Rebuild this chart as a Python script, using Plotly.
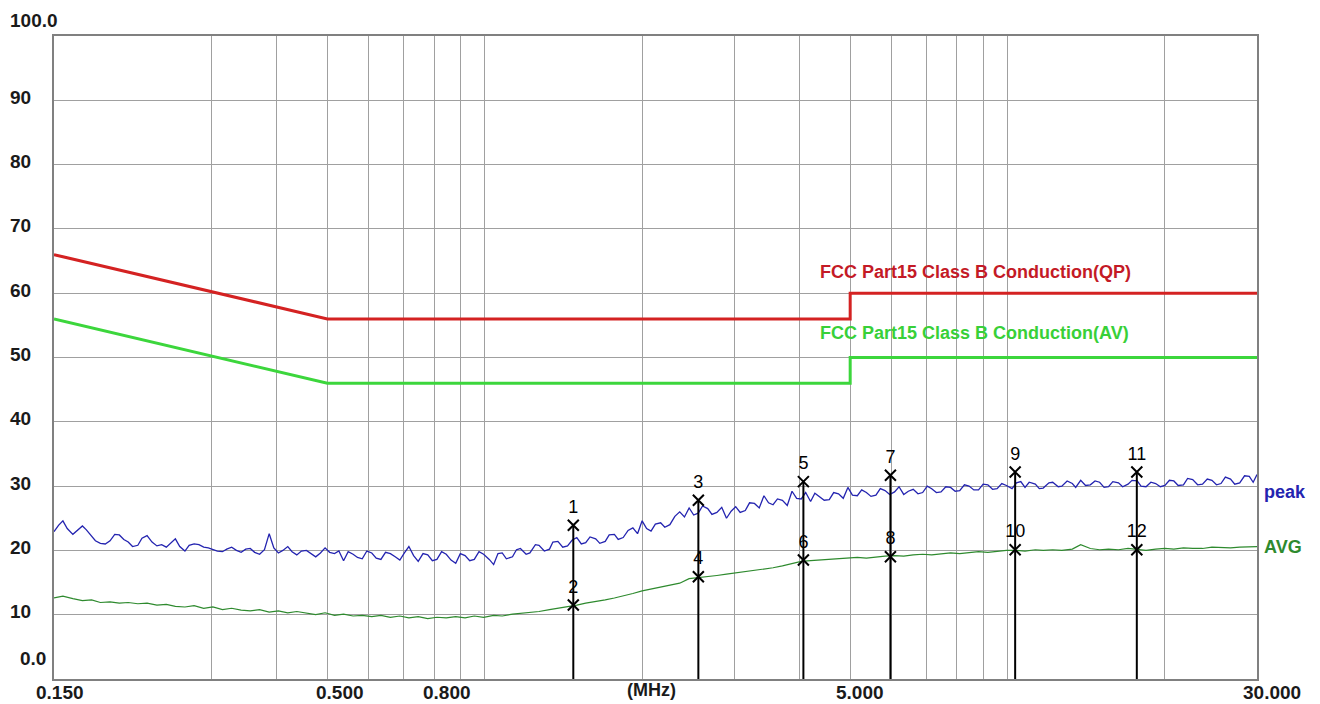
import numpy as np
import plotly.graph_objects as go

# ---------------- data ----------------
# peak detector scan (MHz / dBuV)
peak_freq_mhz = [
    0.150, 0.153, 0.156, 0.159, 0.163, 0.166, 0.170, 0.173, 0.177, 0.180,
    0.184, 0.188, 0.192, 0.196, 0.200, 0.204, 0.208, 0.212, 0.217, 0.221,
    0.226, 0.231, 0.236, 0.241, 0.246, 0.251, 0.256, 0.261, 0.267, 0.272,
    0.278, 0.284, 0.290, 0.296, 0.302, 0.308, 0.315, 0.321, 0.328, 0.335,
    0.342, 0.349, 0.356, 0.363, 0.371, 0.379, 0.387, 0.395, 0.403, 0.411,
    0.420, 0.428, 0.437, 0.446, 0.456, 0.465, 0.475, 0.485, 0.495, 0.505,
    0.516, 0.526, 0.537, 0.548, 0.560, 0.571, 0.583, 0.595, 0.608, 0.620,
    0.633, 0.646, 0.660, 0.674, 0.688, 0.702, 0.716, 0.731, 0.746, 0.762,
    0.778, 0.794, 0.810, 0.827, 0.844, 0.862, 0.880, 0.898, 0.917, 0.936,
    0.955, 0.975, 0.995, 1.02, 1.04, 1.06, 1.08, 1.10, 1.13, 1.15,
    1.17, 1.20, 1.22, 1.25, 1.27, 1.30, 1.33, 1.35, 1.38, 1.41,
    1.44, 1.47, 1.50, 1.53, 1.56, 1.59, 1.63, 1.66, 1.70, 1.73,
    1.77, 1.80, 1.84, 1.88, 1.92, 1.96, 2.00, 2.04, 2.08, 2.12,
    2.17, 2.21, 2.26, 2.31, 2.36, 2.41, 2.46, 2.51, 2.56, 2.61,
    2.67, 2.72, 2.78, 2.84, 2.90, 2.96, 3.02, 3.08, 3.15, 3.21,
    3.28, 3.35, 3.42, 3.49, 3.56, 3.63, 3.71, 3.79, 3.87, 3.95,
    4.03, 4.11, 4.20, 4.28, 4.37, 4.46, 4.56, 4.65, 4.75, 4.85,
    4.95, 5.05, 5.16, 5.26, 5.37, 5.48, 5.60, 5.71, 5.83, 5.95,
    6.08, 6.20, 6.33, 6.46, 6.60, 6.74, 6.88, 7.02, 7.16, 7.31,
    7.46, 7.62, 7.78, 7.94, 8.10, 8.27, 8.44, 8.62, 8.80, 8.98,
    9.17, 9.36, 9.55, 9.75, 9.95, 10.2, 10.4, 10.6, 10.8, 11.0,
    11.3, 11.5, 11.7, 12.0, 12.2, 12.5, 12.7, 13.0, 13.3, 13.5,
    13.8, 14.1, 14.4, 14.7, 15.0, 15.3, 15.6, 15.9, 16.3, 16.6,
    17.0, 17.3, 17.7, 18.0, 18.4, 18.8, 19.2, 19.6, 20.0, 20.4,
    20.8, 21.2, 21.7, 22.1, 22.6, 23.1, 23.6, 24.1, 24.6, 25.1,
    25.6, 26.1, 26.7, 27.2, 27.8, 28.4, 29.0, 29.5, 30.0,
]

peak_dbuv = [
    22.9, 23.9, 24.6, 23.4, 22.5, 23.0, 23.8, 23.2, 22.2, 21.5,
    21.1, 21.0, 21.5, 22.5, 22.4, 21.7, 21.3, 20.6, 20.8, 21.9,
    22.3, 21.3, 20.7, 20.9, 20.5, 21.1, 21.8, 20.6, 19.9, 20.8,
    21.0, 20.9, 20.5, 20.4, 20.1, 19.9, 19.8, 20.2, 20.5, 20.0,
    19.7, 20.2, 20.3, 19.7, 19.4, 20.1, 22.6, 20.4, 19.6, 20.0,
    20.6, 19.8, 19.3, 19.9, 20.0, 19.5, 19.0, 19.6, 20.4, 19.7,
    19.5, 19.9, 18.4, 19.8, 19.4, 18.9, 18.7, 19.9, 19.6, 18.8,
    18.6, 19.7, 19.5, 19.0, 18.5, 19.6, 20.6, 19.2, 18.3, 19.5,
    19.3, 18.4, 18.6, 19.8, 19.4, 18.5, 18.0, 19.5, 19.2, 18.4,
    18.6, 19.8, 19.4, 18.6, 17.8, 19.5, 19.6, 18.7, 19.0, 20.1,
    20.3, 19.4, 19.6, 20.9, 20.8, 19.9, 20.2, 21.3, 21.4, 20.5,
    20.7, 21.6, 22.0, 21.0, 21.2, 22.1, 21.8, 21.1, 21.4, 22.4,
    22.5, 21.7, 22.0, 23.1, 23.5, 22.6, 24.6, 23.4, 23.0, 24.1,
    24.3, 23.6, 24.0, 25.3, 26.0, 25.2, 26.6, 25.5, 25.8, 26.9,
    26.5, 25.6, 25.9, 26.7, 25.0, 26.1, 26.8, 25.9, 26.2, 27.4,
    27.3, 26.6, 28.5, 27.4, 27.1, 28.0, 27.8, 27.0, 29.2, 28.1,
    28.0, 29.0, 27.6, 28.9, 28.4, 27.8, 27.9, 29.0, 28.8, 28.1,
    29.8, 28.6, 28.5, 29.4, 29.0, 28.4, 28.6, 29.6, 29.3, 28.7,
    29.1, 29.9, 28.7, 29.2, 29.5, 28.8, 29.0, 30.0, 29.6, 29.0,
    29.1, 29.9, 29.8, 29.2, 29.3, 30.2, 30.0, 29.4, 29.4, 30.3,
    30.2, 29.5, 29.6, 30.4, 30.1, 29.6, 30.5, 30.7, 29.8, 30.6,
    30.3, 29.6, 29.7, 30.5, 30.6, 29.9, 30.0, 30.8, 30.4, 29.8,
    30.9, 30.1, 30.2, 30.8, 30.6, 29.8, 29.9, 30.7, 30.5, 29.9,
    30.3, 30.9, 30.8, 30.0, 29.9, 30.6, 30.4, 29.9, 30.1, 30.9,
    30.8, 30.1, 30.2, 31.2, 31.0, 30.2, 30.3, 31.1, 30.9, 30.2,
    30.4, 31.4, 31.1, 30.3, 30.5, 31.6, 31.5, 30.6, 31.8,
]

# average detector scan (MHz / dBuV)
avg_freq_mhz = [
    0.150, 0.156, 0.163, 0.170, 0.177, 0.184, 0.192, 0.200, 0.208, 0.217,
    0.226, 0.236, 0.246, 0.256, 0.267, 0.278, 0.290, 0.302, 0.315, 0.328,
    0.342, 0.356, 0.371, 0.387, 0.403, 0.420, 0.437, 0.456, 0.475, 0.495,
    0.516, 0.537, 0.560, 0.583, 0.608, 0.633, 0.660, 0.688, 0.716, 0.746,
    0.778, 0.810, 0.844, 0.880, 0.917, 0.955, 0.995, 1.04, 1.08, 1.13,
    1.17, 1.22, 1.27, 1.33, 1.38, 1.44, 1.50, 1.56, 1.63, 1.70,
    1.77, 1.84, 1.92, 2.00, 2.08, 2.17, 2.26, 2.36, 2.46, 2.56,
    2.67, 2.78, 2.90, 3.02, 3.15, 3.28, 3.42, 3.56, 3.71, 3.87,
    4.03, 4.20, 4.37, 4.56, 4.75, 4.95, 5.16, 5.37, 5.60, 5.83,
    6.08, 6.33, 6.60, 6.88, 7.16, 7.46, 7.78, 8.10, 8.44, 8.80,
    9.17, 9.55, 9.95, 10.4, 10.8, 11.3, 11.7, 12.2, 12.7, 13.3,
    13.8, 14.4, 15.0, 15.6, 16.3, 17.0, 17.7, 18.4, 19.2, 20.0,
    20.8, 21.7, 22.6, 23.6, 24.6, 25.6, 26.7, 27.8, 29.0, 30.0,
]

avg_dbuv = [
    12.6, 12.9, 12.5, 12.2, 12.3, 11.9, 12.0, 11.8, 11.9, 11.7,
    11.8, 11.5, 11.6, 11.3, 11.2, 11.4, 11.0, 11.2, 10.8, 11.0,
    10.7, 10.6, 10.8, 10.4, 10.6, 10.3, 10.5, 10.2, 10.0, 10.3,
    9.9, 10.1, 9.8, 9.9, 9.7, 9.9, 9.6, 9.8, 9.5, 9.7,
    9.4, 9.6, 9.5, 9.7, 9.5, 9.8, 9.6, 9.9, 9.8, 10.1,
    10.2, 10.4, 10.5, 10.8, 11.0, 11.2, 11.5, 11.8, 12.0, 12.3,
    12.6, 12.9, 13.3, 13.7, 14.0, 14.3, 14.6, 14.9, 15.6, 15.8,
    16.0, 16.1, 16.3, 16.5, 16.6, 16.9, 17.1, 17.3, 17.6, 17.9,
    18.3, 18.4, 18.5, 18.6, 18.7, 18.8, 18.9, 18.8, 19.0, 19.1,
    19.2, 19.1, 19.3, 19.4, 19.3, 19.5, 19.6, 19.5, 19.7, 19.8,
    19.7, 19.9, 20.0, 20.0, 19.9, 20.1, 20.0, 20.1, 20.0, 20.2,
    20.9, 20.3, 20.1, 20.2, 20.1, 20.3, 20.1, 20.0, 20.2, 20.3,
    20.2, 20.4, 20.3, 20.3, 20.5, 20.4, 20.4, 20.5, 20.5, 20.6,
]

limit_freq = [0.15, 0.5, 5.0, 5.0, 30.0]
qp_limit = [66, 56, 56, 60, 60]
av_limit = [56, 46, 46, 50, 50]

marker_freq = [1.477, 1.477, 2.562, 2.562, 4.069, 4.069,
               5.97, 5.97, 10.34, 10.34, 17.67, 17.67]
marker_level = [23.9, 11.5, 27.8, 15.9, 30.7, 18.5,
                31.7, 19.0, 32.2, 20.1, 32.2, 20.1]
marker_label = ["1", "2", "3", "4", "5", "6", "7", "8", "9", "10", "11", "12"]

x_grid = [0.3, 0.4, 0.5, 0.6, 0.7, 0.8, 0.9, 1, 2, 3, 4, 5, 6, 7, 8, 9, 10, 20]
y_grid = [10, 20, 30, 40, 50, 60, 70, 80, 90]
y_label_vals = [100, 90, 80, 70, 60, 50, 40, 30, 20, 10, 0]
y_label_text = ["100.0", "90", "80", "70", "60", "50", "40", "30", "20", "10", "0.0"]
x_label_vals = [0.15, 0.5, 0.8, 5.0, 30.0]
x_label_text = ["0.150", "0.500", "0.800", "5.000", "30.000"]

# ---------------- figure ----------------
FONT = "Liberation Sans, Arial, sans-serif"
fig = go.Figure()

fig.add_trace(go.Scatter(x=limit_freq, y=qp_limit, mode="lines",
                         line=dict(color="#d42222", width=3), hoverinfo="skip"))
fig.add_trace(go.Scatter(x=limit_freq, y=av_limit, mode="lines",
                         line=dict(color="#3cd63c", width=3), hoverinfo="skip"))
fig.add_trace(go.Scatter(x=peak_freq_mhz, y=peak_dbuv, mode="lines",
                         line=dict(color="#2424b0", width=1.3), hoverinfo="skip"))
fig.add_trace(go.Scatter(x=avg_freq_mhz, y=avg_dbuv, mode="lines",
                         line=dict(color="#2e8a2e", width=1.2), hoverinfo="skip"))

# vertical marker lines from baseline to the peak marker
vx, vy = [], []
for i in range(0, len(marker_freq), 2):
    vx += [marker_freq[i], marker_freq[i], None]
    vy += [0, marker_level[i], None]
fig.add_trace(go.Scatter(x=vx, y=vy, mode="lines",
                         line=dict(color="black", width=2), hoverinfo="skip"))

fig.add_trace(go.Scatter(
    x=marker_freq, y=marker_level, mode="markers+text",
    text=marker_label, textposition="top center",
    textfont=dict(family=FONT, size=18, color="black"),
    marker=dict(symbol="x-thin", size=11, line=dict(color="black", width=2)),
    hoverinfo="skip"))

ann = []
for v, t in zip(y_label_vals, y_label_text):
    if v == 100:
        xp, ys = -46 / 1203, 16
    elif v == 0:
        xp, ys = -36 / 1203, 21
    else:
        xp, ys = -46 / 1203, 3
    ann.append(dict(x=xp, xref="paper", y=v, yref="y", yshift=ys,
                    text="<b>%s</b>" % t, showarrow=False, xanchor="left",
                    yanchor="middle", font=dict(family=FONT, size=19, color="#1a1a1a")))

x_shifts = [6, 13, 13, 10, 15]
for v, t, s in zip(x_label_vals, x_label_text, x_shifts):
    ann.append(dict(x=np.log10(v), xref="x", y=-13 / 643, yref="paper", xshift=s,
                    text="<b>%s</b>" % t, showarrow=False, xanchor="center",
                    yanchor="middle", font=dict(family=FONT, size=19, color="#1a1a1a")))
ann.append(dict(x=(651 - 54) / 1203, xref="paper", y=-11 / 643, yref="paper",
                text="<b>(MHz)</b>", showarrow=False, xanchor="center", yanchor="middle",
                font=dict(family=FONT, size=18, color="#1a1a1a")))

ann.append(dict(x=(818 - 54) / 1203, xref="paper", y=63.3, yref="y",
                text="<b>FCC Part15 Class B Conduction(QP)</b>", showarrow=False,
                xanchor="left", yanchor="middle",
                font=dict(family=FONT, size=18, color="#c41a26")))
ann.append(dict(x=(818 - 54) / 1203, xref="paper", y=53.8, yref="y",
                text="<b>FCC Part15 Class B Conduction(AV)</b>", showarrow=False,
                xanchor="left", yanchor="middle",
                font=dict(family=FONT, size=18, color="#38d038")))
ann.append(dict(x=(1262 - 54) / 1203, xref="paper", y=29.1, yref="y",
                text="<b>peak</b>", showarrow=False, xanchor="left", yanchor="middle",
                font=dict(family=FONT, size=18, color="#2424b0")))
ann.append(dict(x=(1262 - 54) / 1203, xref="paper", y=20.5, yref="y",
                text="<b>AVG</b>", showarrow=False, xanchor="left", yanchor="middle",
                font=dict(family=FONT, size=18, color="#2e8a2e")))

fig.update_layout(
    width=1320, height=704,
    margin=dict(l=54, r=63, t=36, b=25),
    paper_bgcolor="white", plot_bgcolor="white",
    showlegend=False,
    annotations=ann,
    xaxis=dict(type="log", range=[np.log10(0.15), np.log10(30)],
               tickvals=x_grid, showticklabels=False, ticks="",
               showgrid=True, gridcolor="#a0a0a0", gridwidth=1,
               showline=True, linecolor="#808080", linewidth=2, mirror=True,
               zeroline=False),
    yaxis=dict(range=[0, 100], tickvals=y_grid, showticklabels=False, ticks="",
               showgrid=True, gridcolor="#a0a0a0", gridwidth=1,
               showline=True, linecolor="#808080", linewidth=2, mirror=True,
               zeroline=False),
)

fig.write_html("out.html", config={"displayModeBar": False},
               post_script="document.body.style.margin='0';document.body.style.overflow='hidden';")
